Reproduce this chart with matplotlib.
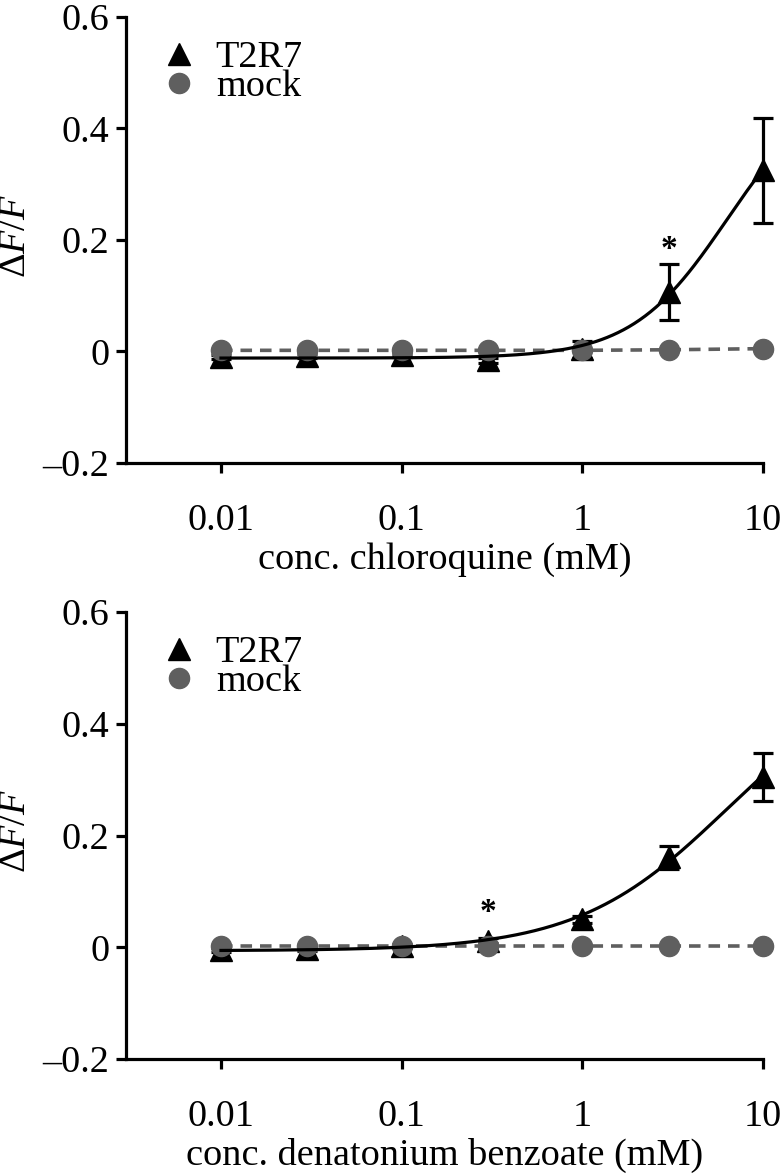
import numpy as np
import matplotlib
matplotlib.use("Agg")
import matplotlib.pyplot as plt
from matplotlib.lines import Line2D
from matplotlib.ticker import FixedLocator, FixedFormatter, NullLocator

plt.rcParams['font.family'] = ['Liberation Serif', 'DejaVu Serif']
plt.rcParams['mathtext.fontset'] = 'custom'
plt.rcParams['mathtext.rm'] = 'Liberation Serif'
plt.rcParams['mathtext.it'] = 'Liberation Serif:italic'

# ---------------- data ----------------
conc = [0.01, 0.03, 0.1, 0.3, 1, 3, 10]

chloro_t2r7 = [-0.010, -0.008, -0.007, -0.016, 0.004, 0.106, 0.325]
chloro_t2r7_err = [0.003, 0.003, 0.003, 0.004, 0.015, 0.050, 0.094]
chloro_mock = [0.002, 0.002, 0.002, 0.002, 0.002, 0.003, 0.005]

denat_t2r7 = [-0.005, -0.003, 0.002, 0.012, 0.050, 0.161, 0.305]
denat_t2r7_err = [0.003, 0.003, 0.004, 0.004, 0.006, 0.021, 0.043]
denat_mock = [0.003, 0.003, 0.003, 0.003, 0.003, 0.003, 0.003]

# significance marks: (concentration, y of the asterisk baseline)
chloro_star = (3, 0.168)
denat_star = (0.3, 0.047)

panels = [
    dict(t2r7=chloro_t2r7, err=chloro_t2r7_err, mock=chloro_mock,
         xlabel="conc. chloroquine (mM)", star=chloro_star),
    dict(t2r7=denat_t2r7, err=denat_t2r7_err, mock=denat_mock,
         xlabel="conc. denatonium benzoate (mM)", star=denat_star),
]

yticks = [-0.2, 0, 0.2, 0.4, 0.6]
ytick_labels = ["\u20130.2", "0", "0.2", "0.4", "0.6"]
xticks = [0.01, 0.1, 1, 10]
xtick_labels = ["0.01", "0.1", "1", "10"]


def hill_fit(x, y):
    """Four-parameter logistic fit (EC50 searched at or above ~6 mM)."""
    x = np.asarray(x, float)
    y = np.asarray(y, float)
    best = None
    for lec in np.linspace(0.8, 2.5, 69):
        for n in np.linspace(0.5, 4.0, 71):
            g = 1.0 / (1.0 + (10 ** lec / x) ** n)
            A = np.vstack([np.ones_like(g), g]).T
            coef, *_ = np.linalg.lstsq(A, y, rcond=None)
            r = np.sum((A @ coef - y) ** 2)
            if best is None or r < best[0]:
                best = (r, lec, n, coef)
    _, lec, n, coef = best
    return lambda xx: coef[0] + coef[1] / (1.0 + (10 ** lec / xx) ** n)


fig = plt.figure(figsize=(7.84, 11.75), dpi=100)
positions = [[0.1607, 0.606, 0.8125, 0.3796], [0.1607, 0.0987, 0.8125, 0.3804]]

TS = 27.5
BLACK = "#000000"
GREY = "#5f5f5f"

for pos, p in zip(positions, panels):
    ax = fig.add_axes(pos)
    ax.set_xscale('log')
    ax.set_xlim(0.00298, 10)
    ax.set_ylim(-0.2, 0.6)

    f = hill_fit(conc, p['t2r7'])
    xs = np.logspace(-2, 1, 300)

    ax.errorbar(conc, p['t2r7'], yerr=p['err'], fmt='^', color=BLACK, ms=16,
                capsize=7.5, elinewidth=2.3, capthick=2.3, clip_on=False, zorder=3)
    ax.plot(conc, p['mock'], color=GREY, ls=(0, (3.2, 2.2)), lw=2.6, marker='o',
            ms=14.5, clip_on=False, zorder=4)
    ax.plot(xs, f(xs), color=BLACK, lw=2.3, zorder=5, clip_on=False)

    sx, sy = p['star']
    ax.text(sx, sy, "*", ha='center', va='baseline', fontsize=24, fontweight='bold')

    for s in ['top', 'right']:
        ax.spines[s].set_visible(False)
    for s in ['left', 'bottom']:
        ax.spines[s].set_linewidth(2.3)

    ax.yaxis.set_major_locator(FixedLocator(yticks))
    ax.yaxis.set_major_formatter(FixedFormatter(ytick_labels))
    ax.xaxis.set_major_locator(FixedLocator(xticks))
    ax.xaxis.set_major_formatter(FixedFormatter(xtick_labels))
    ax.xaxis.set_minor_locator(NullLocator())
    ax.tick_params(axis='both', which='major', direction='out', length=7,
                   width=2.3, labelsize=TS)
    ax.tick_params(axis='y', pad=5)
    ax.tick_params(axis='x', pad=22)

    ax.set_xlabel(p['xlabel'], fontsize=TS, labelpad=3)
    ax.set_ylabel(r'$\Delta F/F$', fontsize=TS)
    ax.yaxis.set_label_coords(-0.146, 0.51)

    handles = [Line2D([], [], marker='^', color=BLACK, ls='none', ms=16),
               Line2D([], [], marker='o', color=GREY, ls='none', ms=14.5)]
    ax.legend(handles, ["T2R7", "mock"], loc='upper left',
              bbox_to_anchor=(0.042, 0.965), frameon=False, fontsize=TS,
              handlelength=1.0, handletextpad=0.45, labelspacing=-0.15,
              borderpad=0.2, borderaxespad=0)

fig.savefig("out.png", dpi=100)
